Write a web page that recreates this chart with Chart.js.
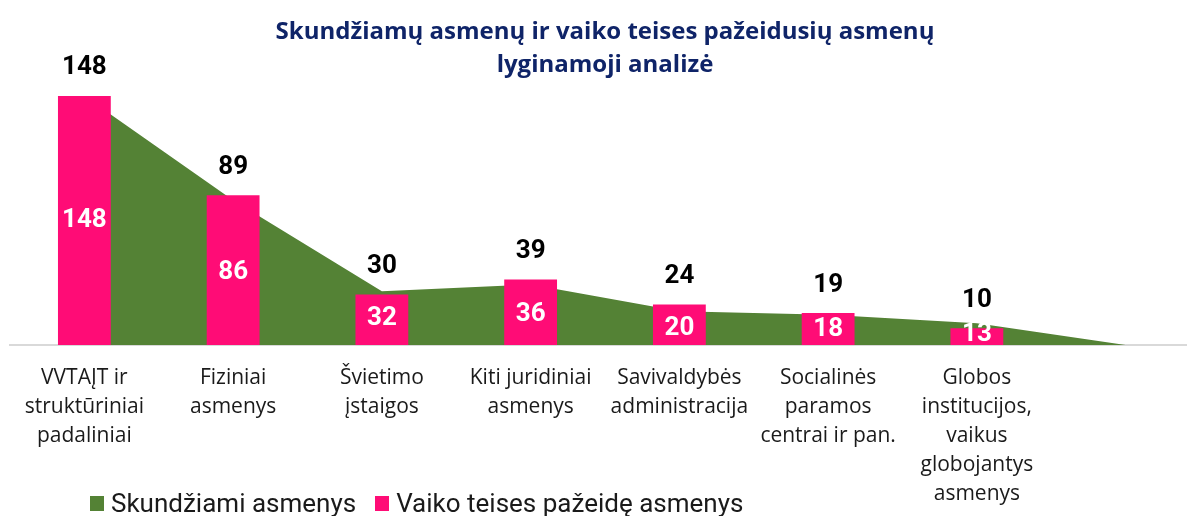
<!DOCTYPE html>
<html lang="lt">
<head>
<meta charset="utf-8">
<title>Skundžiamų asmenų ir vaiko teises pažeidusių asmenų lyginamoji analizė</title>
<script src="https://cdn.jsdelivr.net/npm/chart.js"></script>
<style>
  html, body { margin: 0; padding: 0; background: #fff; overflow: hidden; }
  #wrap { position: relative; width: 1187px; height: 516px; overflow: hidden; }
  #legend {
    position: absolute; left: 90px; top: 488px;
    display: flex; align-items: center;
    font-family: Roboto, "Noto Sans", sans-serif; font-size: 26px; color: #1a1a1a;
  }
  #legend span.box { display: inline-block; width: 14px; height: 15px; margin-right: 7px; }
  #legend span.item { display: flex; align-items: center; margin-right: 19px; }
</style>
</head>
<body>
<div id="wrap">
  <canvas id="chart" width="1200" height="516"></canvas>
  <div id="legend"></div>
</div>
<script>
// categories (last one is empty, the area closes down to it)
const categories = [
  ['VVTAĮT ir', 'struktūriniai', 'padaliniai'],
  ['Fiziniai', 'asmenys'],
  ['Švietimo', 'įstaigos'],
  ['Kiti juridiniai', 'asmenys'],
  ['Savivaldybės', 'administracija'],
  ['Socialinės', 'paramos', 'centrai ir pan.'],
  ['Globos', 'institucijos,', 'vaikus', 'globojantys', 'asmenys'],
  ''
];

const seriesNames = ['Skundžiami asmenys', 'Vaiko teises pažeidę asmenys'];

// green area
const skundziami = [148, 86, 32, 36, 20, 18, 13, 0];
// pink bars
const pazeide = [148, 89, 30, 39, 24, 19, 10, null];

const green = '#548235';
const pink = '#FF0C76';

// draws the value labels: white in the middle of the area, black above the bars
const valueLabels = {
  id: 'valueLabels',
  afterDatasetsDraw(chart) {
    const ctx = chart.ctx;
    const yScale = chart.scales.y;
    ctx.save();
    ctx.textAlign = 'center';
    ctx.textBaseline = 'middle';
    ctx.font = 'bold 26px Roboto, "Liberation Sans", sans-serif';

    let areaMeta = chart.getDatasetMeta(0);
    areaMeta.data.forEach(function(pt, i) {
      let v = skundziami[i];
      if (!v) return;
      ctx.fillStyle = '#ffffff';
      ctx.fillText(String(v), pt.x, yScale.getPixelForValue(v / 2));
    });

    let barMeta = chart.getDatasetMeta(1);
    barMeta.data.forEach(function(bar, i) {
      let v = pazeide[i];
      if (v == null) return;
      ctx.fillStyle = '#000000';
      ctx.fillText(String(v), bar.x, bar.y - 28);
    });
    ctx.restore();
  }
};

var ctx = document.getElementById('chart').getContext('2d');
var chart = new Chart(ctx, {
  data: {
    labels: categories,
    datasets: [
      {
        type: 'line',
        label: seriesNames[0],
        data: skundziami,
        fill: 'origin',
        backgroundColor: green,
        borderColor: green,
        borderWidth: 0,
        pointRadius: 0,
        tension: 0,
        order: 2
      },
      {
        type: 'bar',
        label: seriesNames[1],
        data: pazeide,
        backgroundColor: pink,
        borderWidth: 0,
        categoryPercentage: 1,
        barPercentage: 0.355,
        order: 1
      }
    ]
  },
  options: {
    responsive: false,
    animation: false,
    layout: { padding: { left: 10, right: 0, top: 0, bottom: 0 } },
    plugins: {
      legend: { display: false },
      tooltip: { enabled: false },
      title: {
        display: true,
        text: ['Skundžiamų asmenų ir vaiko teises pažeidusių asmenų', 'lyginamoji analizė'],
        color: '#0F2468',
        font: { family: '"Open Sans", sans-serif', size: 24, weight: 'bold', lineHeight: 1.4 },
        padding: { top: 15, bottom: 0 }
      }
    },
    scales: {
      x: {
        grid: { display: false },
        border: { display: true, color: '#D9D9D9', width: 2 },
        ticks: {
          autoSkip: false,
          maxRotation: 0,
          padding: 11,
          color: '#1a1a1a',
          font: { family: '"Open Sans", sans-serif', size: 21, lineHeight: 1.38 }
        },
        afterFit: function(scale) { scale.height = 171; }
      },
      y: {
        display: false,
        min: 0,
        max: 156.2
      }
    }
  },
  plugins: [valueLabels]
});

// legend as html below the labels, left side like the original
let legendEl = document.getElementById('legend');
[green, pink].forEach(function(c, i) {
  let item = document.createElement('span');
  item.className = 'item';
  item.innerHTML = '<span class="box" style="background:' + c + '"></span>' + seriesNames[i];
  legendEl.appendChild(item);
});
</script>
</body>
</html>
